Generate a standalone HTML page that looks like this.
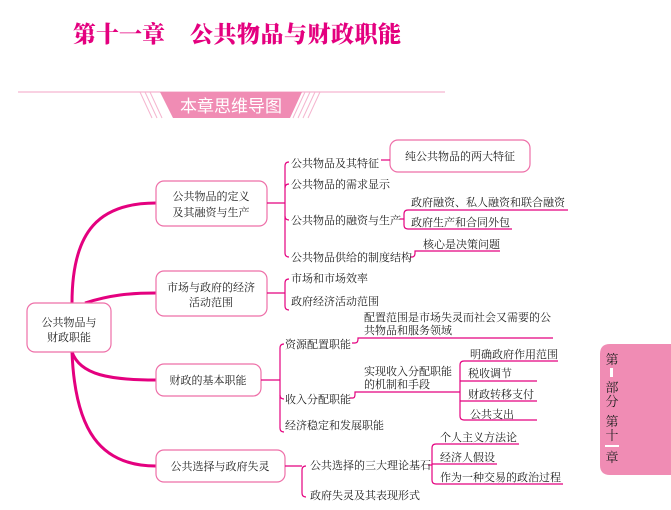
<!DOCTYPE html>
<html><head><meta charset="utf-8"><style>
html,body{margin:0;padding:0;background:#fff;}
svg{display:block;}
text{font-family:"Liberation Serif","Noto Serif CJK SC",serif;fill:#222;font-size:11px;}
.t{fill:#e4007f;font-weight:900;font-size:23px;}
.b{font-size:11.5px;}
.w{fill:#fff;font-family:"Liberation Sans","Noto Sans CJK SC",sans-serif;}
</style></head><body>
<svg width="671" height="510" viewBox="0 0 671 510" xmlns="http://www.w3.org/2000/svg">
<text class="t" x="73" y="42">第十一章</text>
<text class="t" x="190" y="42" style="letter-spacing:0.5px">公共物品与财政职能</text>
<line x1="18" y1="92" x2="445" y2="92" stroke="#f7c2d8" stroke-width="1.5"/>
<g stroke="#f5b5cf" stroke-width="1">
<line x1="140" y1="92" x2="152" y2="118"/><line x1="145" y1="92" x2="157" y2="118"/><line x1="150" y1="92" x2="162" y2="118"/>
<line x1="305" y1="92" x2="293" y2="118"/><line x1="310" y1="92" x2="298" y2="118"/><line x1="315" y1="92" x2="303" y2="118"/><line x1="320" y1="92" x2="308" y2="118"/>
</g>
<polygon points="160,92 302,92 290,118 173,118" fill="#f08cb4"/>
<text class="w" x="231" y="112" text-anchor="middle" style="font-size:17px">本章思维导图</text>

<g fill="none" stroke="#e4007f" stroke-width="3">
<path d="M72,303 C72,230 100,203 156,203"/>
<path d="M85,303 C110,295 130,293 156,293"/>
<path d="M72,352 C80,375 110,380 156,380"/>
<path d="M72,352 C75,430 100,466 156,466"/>
</g>
<g fill="#fff" stroke="#ee6fa8" stroke-width="1.2">
<rect x="27" y="303" width="84" height="49" rx="8"/>
<rect x="156" y="181" width="111" height="45" rx="8"/>
<rect x="156" y="271" width="111" height="45" rx="8"/>
<rect x="156" y="364" width="105" height="32" rx="8"/>
<rect x="156" y="450" width="129" height="32" rx="8"/>
<rect x="390" y="140" width="140" height="32" rx="8"/>
</g>
<g class="b" text-anchor="middle">
<text x="69" y="326">公共物品与</text><text x="69" y="341">财政职能</text>
<text x="211" y="200">公共物品的定义</text><text x="211" y="216">及其融资与生产</text>
<text x="211" y="291">市场与政府的经济</text><text x="211" y="306">活动范围</text>
<text x="208" y="384">财政的基本职能</text>
<text x="220" y="470">公共选择与政府失灵</text>
<text x="460" y="160">纯公共物品的两大特征</text>
</g>

<g fill="none" stroke="#e4007f" stroke-width="1.2">
<line x1="267" y1="203" x2="285" y2="203"/>
<path d="M289,162 Q285,162 285,166 L285,253 Q285,257 289,257"/>
<path d="M289,184 Q285,184 285,188"/>
<path d="M289,220 Q285,220 285,216"/>
<line x1="381" y1="160" x2="390" y2="160"/>
<path d="M400,219 L404,219 M408,210 Q404,210 404,214 L404,225 Q404,229 408,229"/>
<line x1="408" y1="210" x2="568" y2="210"/><line x1="408" y1="229" x2="512" y2="229"/>
<path d="M410,257 L412,257 Q415,257 415,253 L415,251 L500,251"/>

<line x1="267" y1="293" x2="285" y2="293"/>
<path d="M289,279 Q285,279 285,283 L285,306 Q285,310 289,310"/>

<line x1="261" y1="380" x2="280" y2="380"/>
<path d="M284,344 Q280,344 280,348 L280,428 Q280,432 284,432"/>
<path d="M284,399 Q280,399 280,395"/>
<path d="M352,343 L355,343 Q358,343 358,339 L358,338 L553,338"/>
<path d="M350,398 L353,398 Q355,398 355,394 L355,392 L460,392"/>
<path d="M464,361 Q460,361 460,365 L460,416 Q460,420 464,420"/>
<line x1="464" y1="361" x2="558" y2="361"/><line x1="460" y1="381" x2="537" y2="381"/>
<line x1="460" y1="401" x2="537" y2="401"/><line x1="464" y1="420" x2="537" y2="420"/>

<line x1="285" y1="466" x2="302" y2="466"/>
<path d="M306,466 Q302,466 302,470 L302,493 Q302,497 306,497"/>
<line x1="428" y1="465" x2="432" y2="465"/>
<path d="M436,444 Q432,444 432,448 L432,480 Q432,484 436,484"/>
<line x1="436" y1="444" x2="519" y2="444"/><line x1="432" y1="464" x2="497" y2="464"/>
<line x1="436" y1="484" x2="563" y2="484"/>
</g>

<text x="291" y="167">公共物品及其特征</text>
<text x="291" y="188">公共物品的需求显示</text>
<text x="291" y="224">公共物品的融资与生产</text>
<text x="291" y="261">公共物品供给的制度结构</text>
<text x="411" y="206">政府融资、私人融资和联合融资</text>
<text x="411" y="226">政府生产和合同外包</text>
<text x="423" y="248">核心是决策问题</text>
<text x="291" y="282">市场和市场效率</text>
<text x="291" y="305">政府经济活动范围</text>
<text x="285" y="348">资源配置职能</text>
<text x="285" y="403">收入分配职能</text>
<text x="285" y="429">经济稳定和发展职能</text>
<text x="364" y="321">配置范围是市场失灵而社会又需要的公</text>
<text x="364" y="334">共物品和服务领域</text>
<text x="364" y="375">实现收入分配职能</text>
<text x="364" y="388">的机制和手段</text>
<text x="470" y="358">明确政府作用范围</text>
<text x="468" y="377">税收调节</text>
<text x="468" y="398">财政转移支付</text>
<text x="470" y="418">公共支出</text>
<text x="310" y="469">公共选择的三大理论基石</text>
<text x="310" y="499">政府失灵及其表现形式</text>
<text x="440" y="441">个人主义方法论</text>
<text x="440" y="461">经济人假设</text>
<text x="440" y="481">作为一种交易的政治过程</text>

<path d="M610,344 L671,344 L671,475 L610,475 Q600,475 600,465 L600,354 Q600,344 610,344 Z" fill="#f08cb4"/>
<g class="w" text-anchor="middle" style="font-size:13px">
<text x="612" y="364" style="font-size:13px">第</text>
<rect x="610" y="368" width="3" height="9" fill="#fff"/>
<text x="612" y="392" style="font-size:13px">部</text><text x="612" y="406" style="font-size:13px">分</text>
<text x="612" y="426" style="font-size:13px">第</text><text x="612" y="440" style="font-size:13px">十</text>
<rect x="605" y="445" width="14" height="2" fill="#fff"/>
<text x="612" y="462" style="font-size:13px">章</text>
</g>
</svg>
</body></html>
